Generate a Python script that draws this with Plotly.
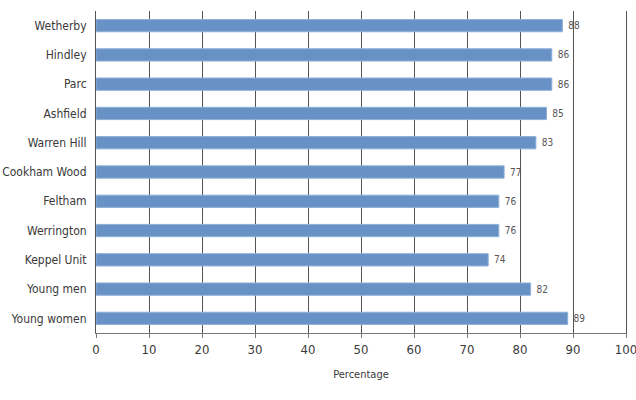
import plotly.graph_objects as go

categories = ["Wetherby", "Hindley", "Parc", "Ashfield", "Warren Hill", "Cookham Wood",
              "Feltham", "Werrington", "Keppel Unit", "Young men", "Young women"]
values = [88, 86, 86, 85, 83, 77, 76, 76, 74, 82, 89]
x_ticks = [0, 10, 20, 30, 40, 50, 60, 70, 80, 90, 100]

FONT = "DejaVu Sans Condensed, Liberation Sans Narrow, Arial Narrow, sans-serif"

fig = go.Figure(go.Bar(
    y=categories, x=values, orientation="h",
    marker=dict(color="#6892c5", line=dict(color="#8fb0d8", width=1)),
    text=[" " + str(v) for v in values], textposition="outside",
    textfont=dict(family=FONT, size=10, color="#555555"),
    cliponaxis=False,
))

fig.update_layout(
    width=636, height=400,
    margin=dict(l=96, r=10, t=11, b=67, autoexpand=False),
    plot_bgcolor="white", paper_bgcolor="white",
    bargap=0.58,
    showlegend=False,
    font=dict(family=FONT, color="#3a3a3a"),
)
fig.update_xaxes(
    range=[0, 100], tickvals=x_ticks, ticktext=[str(t) for t in x_ticks],
    showgrid=True, gridcolor="#555555", gridwidth=1,
    showline=True, linecolor="#777777", linewidth=1,
    ticks="outside", ticklen=4, tickcolor="#777777",
    tickfont=dict(family=FONT, size=13, color="#3a3a3a"),
    ticklabeloverflow="allow",
    title=dict(text="Percentage", font=dict(family=FONT, size=11, color="#3a3a3a"), standoff=14),
    zeroline=False, automargin=False,
)
fig.update_yaxes(
    autorange="reversed",
    tickfont=dict(family=FONT, size=12, color="#3a3a3a"),
    ticks="outside", ticklen=6, tickcolor="rgba(0,0,0,0)",
    showline=True, mirror=True, linecolor="#555555", linewidth=1,
    showgrid=False, automargin=False,
)
fig.write_html("out.html")
